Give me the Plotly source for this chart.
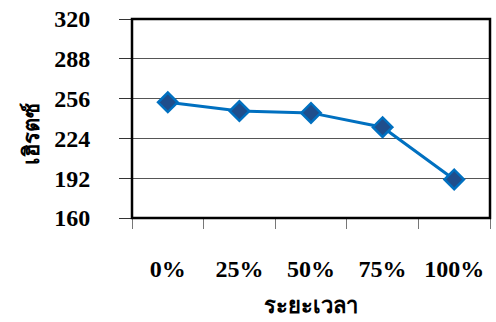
import plotly.graph_objects as go

# Frequency measured at each stage of the duration
periods = ["0%", "25%", "50%", "75%", "100%"]
hertz = [253, 246, 244.5, 233, 191]
y_ticks = [160, 192, 224, 256, 288, 320]
y_range = [160, 320]

fig = go.Figure()
fig.add_trace(go.Scatter(
    x=periods, y=hertz, mode="lines+markers",
    line=dict(color="#0070C0", width=3),
    marker=dict(symbol="diamond", size=15, color="#1F4E8C",
                line=dict(color="#0070C0", width=2.5)),
    showlegend=False, cliponaxis=False,
))

tick_font = dict(family="Liberation Serif", size=24, color="black", weight="bold")

fig.update_layout(
    width=496, height=322,
    margin=dict(l=132, r=6, t=16, b=104),
    paper_bgcolor="white", plot_bgcolor="white",
    xaxis=dict(
        type="category", tickson="boundaries", ticks="outside",
        ticklen=10, tickcolor="#777", tickwidth=1,
        showgrid=False, showline=False, zeroline=False,
        tickfont=tick_font, ticklabelstandoff=34,
        range=[-0.5, 4.5],
    ),
    yaxis=dict(
        range=y_range, tickvals=y_ticks, ticks="outside",
        ticklen=12, tickcolor="#333", tickwidth=1,
        showgrid=True, gridcolor="#555", gridwidth=1,
        showline=False, zeroline=False,
        tickfont=tick_font, ticklabelstandoff=24,
    ),
    annotations=[
        dict(text="<b>ระยะเวลา</b>", xref="paper", yref="paper",
             x=0.5, y=-0.43, showarrow=False, yanchor="middle",
             font=dict(family="Noto Sans", size=22, color="black")),
        dict(text="<b>เฮิรตซ์</b>", xref="paper", yref="paper",
             x=-0.285, y=0.42, showarrow=False, textangle=-90,
             xanchor="center", yanchor="middle",
             font=dict(family="Noto Sans", size=22, color="black")),
    ],
    shapes=[
        dict(type="rect", xref="paper", yref="paper", x0=0, y0=0, x1=1, y1=1,
             line=dict(color="black", width=2.5), layer="above"),
    ],
)

fig.write_html("out.html")
